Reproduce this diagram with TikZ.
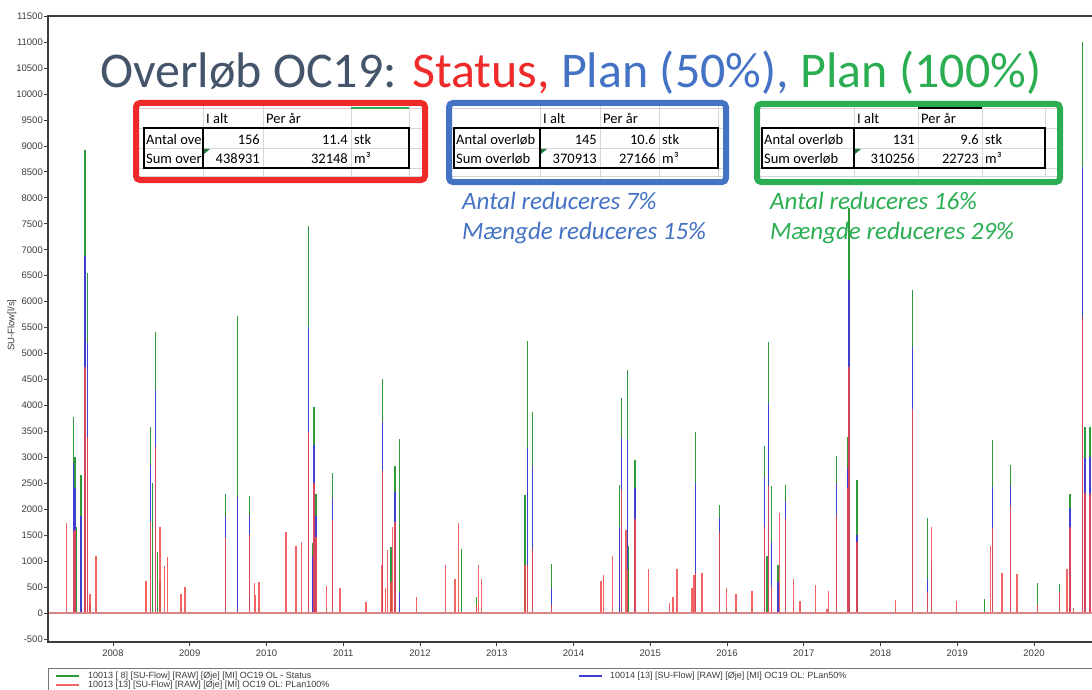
\documentclass[tikz,border=0pt]{standalone}
\usepackage{fontspec}
\setmainfont{Carlito}
\newfontfamily\chartfont{Liberation Sans}
\usepackage{tikz}

\definecolor{titlegray}{HTML}{44546A}
\definecolor{statusred}{HTML}{EE2A2A}
\definecolor{planblue}{HTML}{4472C4}
\definecolor{plangreen}{HTML}{2BAE52}
\definecolor{axisgray}{HTML}{3C3C3C}
\definecolor{gridgray}{HTML}{D6D6D6}
\definecolor{seriesgreen}{HTML}{2F9A3A}
\definecolor{seriesblue}{HTML}{4040D0}
\definecolor{seriesred}{HTML}{F04848}
\definecolor{zerored}{HTML}{D98585}
\definecolor{excelgreen}{HTML}{1E7B3A}

\tikzstyle{axis} = [draw=axisgray, line width=1.2pt]
\tikzstyle{ticklabel} = [font=\chartfont\fontsize{9.5}{10}\selectfont, text=axisgray, inner sep=0pt]
\tikzstyle{legendtext} = [font=\chartfont\fontsize{9}{10}\selectfont, text=axisgray, inner sep=0pt, anchor=west]
\tikzstyle{statusline} = [draw=seriesgreen, line width=1.3pt]
\tikzstyle{plan50line} = [draw=seriesblue, line width=1.3pt]
\tikzstyle{plan100line} = [draw=seriesred, line width=1.3pt, opacity=0.85]
\tikzstyle{framebox} = [line width=6pt, rounded corners=4pt]
\tikzstyle{gridline} = [draw=gridgray, line width=0.8pt]
\tikzstyle{tableborder} = [draw=black, line width=1.6pt]
\tikzstyle{cell} = [font=\fontsize{14.5}{16}\selectfont, inner sep=0pt]
\tikzstyle{reduction} = [font=\fontsize{25}{28}\selectfont\itshape, inner sep=0pt, anchor=base west]

% spreadsheet grid: #1/#2 frame left/right, #3..#7 column edges
\newcommand{\excelgrid}[7]{%
  \foreach \gy in {108,128,148,168,176} \draw[gridline] (#1+3,\gy) -- (#2-3,\gy);
  \foreach \gx in {#4,#5,#6,#7} \draw[gridline] (\gx,106) -- (\gx,178);
  \draw[tableborder] (#3,128) rectangle (#7,168);
  \draw[tableborder] (#4,128) -- (#4,168);
  \fill[excelgreen] (#4+1,149) -- ++(6,0) -- ++(-6,5) -- cycle;
}

\begin{document}
\begin{tikzpicture}[x=1pt, y=-1pt]
    \useasboundingbox (0,0) rectangle (1092,690);
    \fill[white] (0,0) rectangle (1092,690);

    % Flow series: t = years after 2007, values in l/s (status, plan 50%, plan 100%)
    \begin{scope}[shift={(36.25,613)}, x=76.75pt, y=0.0519pt]
        \foreach \t/\g/\b/\r in {0.397/0/0/1740, 0.483/3770/2890/1570, 0.505/3010/2400/1600,
            0.527/1650/0/0, 0.583/2660/1860/0, 0.635/8920/6870/4745, 0.670/6550/5200/3400,
            0.700/150/0/370, 0.779/0/0/1100,
            1.430/0/0/615, 1.491/3580/2850/1750, 1.512/2510/0/0, 1.556/5420/4300/3200,
            1.577/1180/0/0, 1.612/590/0/1650, 1.674/0/0/900, 1.713/0/0/1080,
            1.886/0/0/370, 1.938/0/0/510,
            2.468/2290/1860/1440, 2.625/5730/2240/0, 2.776/2250/1890/1530,
            2.841/0/0/580, 2.859/0/0/350, 2.902/0/0/600,
            3.254/0/0/1560, 3.384/0/0/1290, 3.454/0/0/1370, 3.545/7460/5520/3490,
            3.602/1350/1100/0, 3.619/3960/3230/2500, 3.645/2290/1860/1460,
            3.784/0/0/520, 3.863/2690/2220/1790, 3.958/0/0/480,
            4.297/0/0/220, 4.501/0/0/920, 4.514/4510/3690/2760, 4.553/0/0/480,
            4.574/0/0/1220, 4.622/1270/0/600, 4.644/0/0/1650, 4.674/2840/2340/1760,
            4.730/3350/400/0, 4.957/0/0/300,
            5.335/0/0/920, 5.456/0/0/650, 5.499/0/0/1740, 5.543/1240/0/0,
            5.739/300/0/150, 5.760/0/0/920, 5.804/0/0/650,
            6.368/2280/0/920, 6.398/5240/3180/920, 6.468/3870/2830/1230, 6.711/945/480/150,
            7.357/0/0/620, 7.390/0/0/730, 7.504/0/0/1100, 7.596/2470/1650/0,
            7.628/4140/3370/2370, 7.683/0/0/1600, 7.701/4680/3330/830, 7.719/1290/0/0,
            7.803/2950/2400/1820, 7.977/0/0/840,
            8.252/0/0/200, 8.298/0/0/310, 8.349/0/0/840, 8.545/0/0/480, 8.569/0/0/740,
            8.587/3490/2500/780, 8.675/0/0/780, 8.904/2080/1840/1570, 8.995/0/0/480,
            9.118/0/0/370, 9.326/0/0/430, 9.486/3220/2630/1650, 9.522/1090/0/0,
            9.537/5230/4050/2440, 9.583/2440/1370/500, 9.665/930/600/0, 9.683/0/0/1920,
            9.766/2470/2150/1820, 9.866/0/0/650, 9.950/0/0/230,
            10.152/0/0/540, 10.303/0/0/80, 10.325/0/0/430, 10.430/3020/2500/1890,
            10.568/3390/2800/2400, 10.591/7800/6420/4750, 10.693/2560/1500/1370,
            11.197/0/0/260, 11.417/6220/5130/3940, 11.610/1840/650/410, 11.665/1000/0/1660,
            11.986/0/0/230,
            12.354/270/0/0, 12.436/0/0/1290, 12.459/3330/2430/1630, 12.583/0/0/780,
            12.698/2850/2460/2060, 12.779/0/0/760,
            13.041/580/0/150, 13.331/560/0/400, 13.431/0/0/840, 13.468/2290/2020/1660,
            13.515/0/0/100, 13.630/11000/8600/5700, 13.665/3590/2990/2310,
            13.730/3590/3000/2300} {
            \draw[statusline] (\t,0) -- (\t,\g);
            \draw[plan50line] (\t,0) -- (\t,\b);
            \draw[plan100line] (\t,0) -- (\t,\r);
        }
    \end{scope}
    \draw[zerored, line width=1.5pt] (48,613) -- (1092,613);

    % Axes
    \draw[axis] (1092,16) -- (48,16) -- (48,642) -- (1092,642);
    \foreach \v in {-500,0,...,11500} {
        \draw[axis, line width=0.8pt] (44,{613-0.0519*\v}) -- (48,{613-0.0519*\v});
        \node[ticklabel, anchor=east] (ylab\v) at (43,{613-0.0519*\v}) {\v};
    }
    \foreach \yr in {2008,...,2020} {
        \draw[axis, line width=0.8pt] ({113+76.75*(\yr-2008)},642) -- ++(0,4);
        \node[ticklabel] (xlab\yr) at ({113+76.75*(\yr-2008)},653) {\yr};
    }
    \node[ticklabel, rotate=90] (ylabel) at (12,325) {SU-Flow[l/s]};

    % Legend
    \draw[draw=axisgray!70, line width=1pt] (48,668) rectangle (1110,710);
    \draw[statusline] (56,676) -- (79,676);
    \node[legendtext] (legstatus) at (88,676) {10013 [ 8] [SU-Flow] [RAW] [Øje] [MI] OC19 OL - Status};
    \draw[plan50line] (579,676) -- (602,676);
    \node[legendtext] (legplan50) at (610,676) {10014 [13] [SU-Flow] [RAW] [Øje] [MI] OC19 OL: PLan50\%};
    \draw[plan100line] (56,685) -- (79,685);
    \node[legendtext] (legplan100) at (88,685) {10013 [13] [SU-Flow] [RAW] [Øje] [MI] OC19 OL: PLan100\%};

    % Title
    \node[anchor=base west, inner sep=0pt, font=\fontsize{50}{60}\selectfont] (title) at (100,88)
        {\textcolor{titlegray}{Overløb OC19:} \textcolor{statusred}{Status,} \textcolor{planblue}{Plan (50\%),} \textcolor{plangreen}{Plan (100\%)}};

    % Status table
    \fill[white, rounded corners=4pt] (136,103) rectangle (425,180);
    \excelgrid{136}{425}{144}{203}{263}{351}{409}
    \draw[plangreen, line width=2pt] (351,108) -- (409,108);
    \draw[framebox, draw=statusred] (136,103) rectangle (425,180);
    \node[cell, anchor=base west] (shead1) at (206,124) {I alt};
    \node[cell, anchor=base west] (shead2) at (266,124) {Per år};
    \node[cell, anchor=base west] (scount) at (146,144) {Antal ove};
    \node[cell, anchor=base east] (scountall) at (260,144) {156};
    \node[cell, anchor=base east] (scountyr) at (348,144) {11.4};
    \node[cell, anchor=base west] (scountunit) at (354,144) {stk};
    \node[cell, anchor=base west] (ssum) at (146,163) {Sum over};
    \node[cell, anchor=base east] (ssumall) at (260,163) {438931};
    \node[cell, anchor=base east] (ssumyr) at (348,163) {32148};
    \node[cell, anchor=base west] (ssumunit) at (354,163) {m³};

    % Plan 50% table
    \fill[white, rounded corners=4pt] (449,103) rectangle (726,182);
    \excelgrid{449}{726}{454}{540}{600}{659}{718}
    \draw[framebox, draw=planblue] (449,103) rectangle (726,182);
    \node[cell, anchor=base west] (bhead1) at (543,124) {I alt};
    \node[cell, anchor=base west] (bhead2) at (603,124) {Per år};
    \node[cell, anchor=base west] (bcount) at (456,144) {Antal overløb};
    \node[cell, anchor=base east] (bcountall) at (597,144) {145};
    \node[cell, anchor=base east] (bcountyr) at (656,144) {10.6};
    \node[cell, anchor=base west] (bcountunit) at (662,144) {stk};
    \node[cell, anchor=base west] (bsum) at (456,163) {Sum overløb};
    \node[cell, anchor=base east] (bsumall) at (597,163) {370913};
    \node[cell, anchor=base east] (bsumyr) at (656,163) {27166};
    \node[cell, anchor=base west] (bsumunit) at (662,163) {m³};
    \node[reduction, text=planblue] (bred1) at (462,209) {Antal reduceres 7\%};
    \node[reduction, text=planblue] (bred2) at (462,239) {Mængde reduceres 15\%};

    % Plan 100% table
    \fill[white, rounded corners=4pt] (757,104) rectangle (1060,182);
    \excelgrid{757}{1060}{762}{854}{918}{982}{1045}
    \draw[black, line width=2pt] (918,108) -- (982,108);
    \draw[framebox, draw=plangreen] (757,104) rectangle (1060,182);
    \node[cell, anchor=base west] (ghead1) at (857,124) {I alt};
    \node[cell, anchor=base west] (ghead2) at (921,124) {Per år};
    \node[cell, anchor=base west] (gcount) at (764,144) {Antal overløb};
    \node[cell, anchor=base east] (gcountall) at (915,144) {131};
    \node[cell, anchor=base east] (gcountyr) at (979,144) {9.6};
    \node[cell, anchor=base west] (gcountunit) at (985,144) {stk};
    \node[cell, anchor=base west] (gsum) at (764,163) {Sum overløb};
    \node[cell, anchor=base east] (gsumall) at (915,163) {310256};
    \node[cell, anchor=base east] (gsumyr) at (979,163) {22723};
    \node[cell, anchor=base west] (gsumunit) at (985,163) {m³};
    \node[reduction, text=plangreen] (gred1) at (770,209) {Antal reduceres 16\%};
    \node[reduction, text=plangreen] (gred2) at (770,239) {Mængde reduceres 29\%};
\end{tikzpicture}
\end{document}
